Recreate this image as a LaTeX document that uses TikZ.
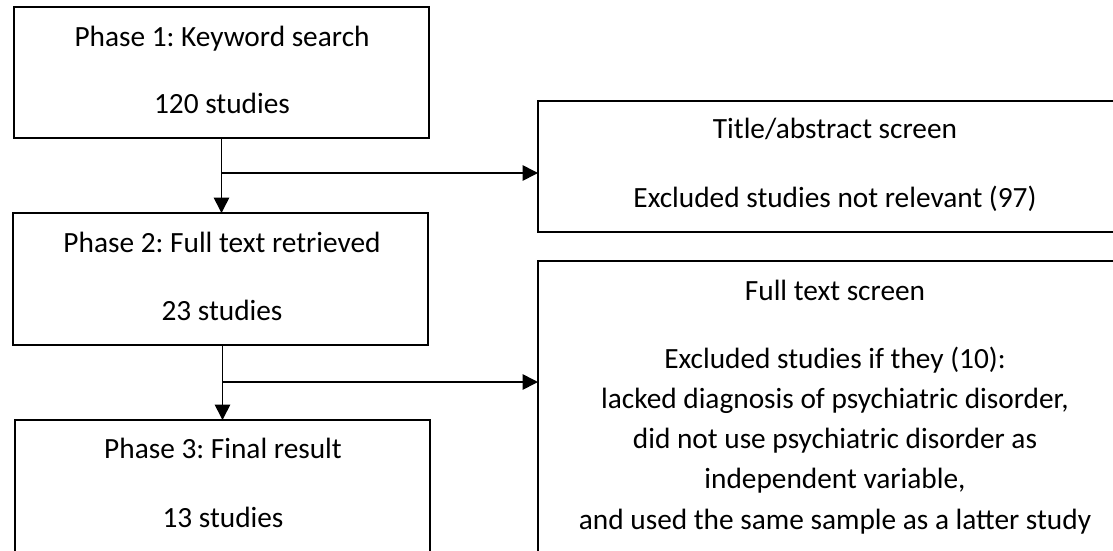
\documentclass[tikz,border=0pt]{standalone}
\usepackage{fontspec}
\setmainfont{Carlito}
\usetikzlibrary{arrows.meta}
\frenchspacing
\begin{document}
\begin{tikzpicture}[x=0.75pt,y=-0.75pt,
  box/.style={draw,line width=1.5pt,inner sep=0pt,outer sep=0pt},
  txt/.style={anchor=base,inner sep=0pt,font=\fontsize{22}{26}\selectfont},
  conn/.style={line width=1.2pt,-{Triangle[length=11.5pt,width=11.5pt]}}]
\useasboundingbox (0,0) rectangle (1113,550);
% boxes
\node[box,minimum width=311.25pt,minimum height=98.25pt] (b1) at (221.5,72.5) {};
\node[box,minimum width=311.25pt,minimum height=99pt] (b2) at (220.5,279) {};
\node[box,minimum width=311.25pt,minimum height=105pt] (b3) at (222.5,490) {};
\node[box,minimum width=440.25pt,minimum height=98.25pt] (r1) at (831.5,166.5) {};
\node[box,minimum width=440.25pt,minimum height=231.75pt] (r2) at (831.5,415.5) {};
% texts
\node[txt] (t1a) at (222,46) {Phase 1: Keyword search};
\node[txt] (t1b) at (222,113) {120 studies};
\node[txt] (t2a) at (222,252) {Phase 2: Full text retrieved};
\node[txt] (t2b) at (222,320) {23 studies};
\node[txt] (t3a) at (223,458) {Phase 3: Final result};
\node[txt] (t3b) at (223,527) {13 studies};
\node[txt] (r1a) at (835,138) {Title/abstract screen};
\node[txt] (r1b) at (835,207) {Excluded studies not relevant (97)};
\node[txt] (r2a) at (835,300) {Full text screen};
\node[txt] (r2b) at (835,368.3) {Excluded studies if they (10):};
\node[txt] (r2c) at (835,408.5) {lacked diagnosis of psychiatric disorder,};
\node[txt] (r2d) at (835,448.7) {did not use psychiatric disorder as};
\node[txt] (r2e) at (835,488.9) {independent variable,};
\node[txt] (r2f) at (835,529.1) {and used the same sample as a latter study};
% connectors
\coordinate (j1) at (221.5,173);
\coordinate (j2) at (222.5,382);
\draw[conn] (b1.south -| j1) -- (b2.north -| j1);
\draw[conn] (j1) -- (j1 -| r1.west);
\draw[conn] (b2.south -| j2) -- (b3.north -| j2);
\draw[conn] (j2) -- (j2 -| r2.west);
\end{tikzpicture}
\end{document}
